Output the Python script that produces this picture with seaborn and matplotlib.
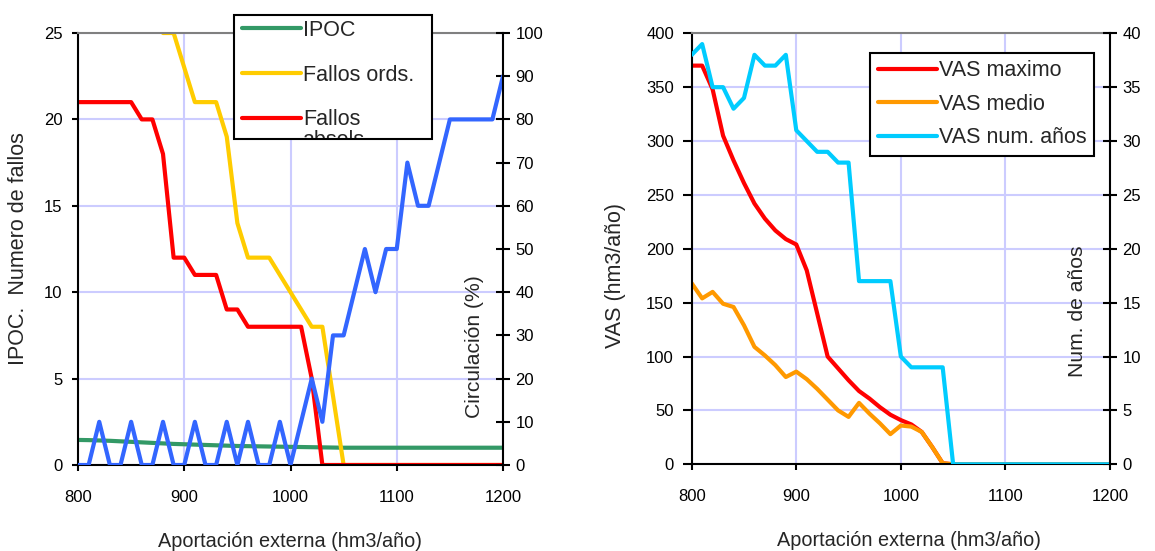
import matplotlib
matplotlib.use("Agg")
import matplotlib.pyplot as plt
import seaborn as sns
import pandas as pd
from matplotlib.patches import Rectangle
from matplotlib.transforms import Bbox, TransformedBbox

# ---- data -------------------------------------------------------------
aportacion = [800, 810, 820, 830, 840, 850, 860, 870, 880, 890,
              900, 910, 920, 930, 940, 950, 960, 970, 980, 990,
              1000, 1010, 1020, 1030, 1040, 1050, 1060, 1070, 1080, 1090,
              1100, 1110, 1120, 1130, 1140, 1150, 1160, 1170, 1180, 1190, 1200]

ipoc = [1.45, 1.44, 1.42, 1.40, 1.37, 1.34, 1.31, 1.28, 1.25, 1.22,
        1.20, 1.18, 1.16, 1.14, 1.12, 1.10, 1.09, 1.08, 1.07, 1.06,
        1.05, 1.04, 1.03, 1.02, 1.01, 1.0, 1.0, 1.0, 1.0, 1.0,
        1.0, 1.0, 1.0, 1.0, 1.0, 1.0, 1.0, 1.0, 1.0, 1.0, 1.0]
fallos_ords = [33, 33, 32, 31, 30, 29, 28, 27, 25, 25,
               23, 21, 21, 21, 19, 14, 12, 12, 12, 11,
               10, 9, 8, 8, 4, 0, 0, 0, 0, 0,
               0, 0, 0, 0, 0, 0, 0, 0, 0, 0, 0]
fallos_abs = [21, 21, 21, 21, 21, 21, 20, 20, 18, 12,
              12, 11, 11, 11, 9, 9, 8, 8, 8, 8,
              8, 8, 5, 0, 0, 0, 0, 0, 0, 0,
              0, 0, 0, 0, 0, 0, 0, 0, 0, 0, 0]
circulacion = [0, 0, 10, 0, 0, 10, 0, 0, 10, 0,
               0, 10, 0, 0, 10, 0, 10, 0, 0, 10,
               0, 10, 20, 10, 30, 30, 40, 50, 40, 50,
               50, 70, 60, 60, 70, 80, 80, 80, 80, 80, 90]

vas_max = [370, 370, 348, 305, 282, 261, 242, 228, 217, 209,
           204, 180, 140, 100, 89, 78, 68, 61, 53, 46,
           41, 37, 30, 16, 1, 0, 0, 0, 0, 0,
           0, 0, 0, 0, 0, 0, 0, 0, 0, 0, 0]
vas_medio = [168, 154, 160, 149, 146, 129, 109, 101, 92, 81,
             86, 79, 70, 60, 50, 44, 57, 47, 38, 28,
             36, 35, 30, 16, 1, 0, 0, 0, 0, 0,
             0, 0, 0, 0, 0, 0, 0, 0, 0, 0, 0]
vas_anios = [38, 39, 35, 35, 33, 34, 38, 37, 37, 38,
             31, 30, 29, 29, 28, 28, 17, 17, 17, 17,
             10, 9, 9, 9, 9, 0, 0, 0, 0, 0,
             0, 0, 0, 0, 0, 0, 0, 0, 0, 0, 0]

df = pd.DataFrame({"x": aportacion, "ipoc": ipoc, "ords": fallos_ords,
                   "abs": fallos_abs, "circ": circulacion,
                   "vmax": vas_max, "vmed": vas_medio, "vnum": vas_anios})

# ---- style ------------------------------------------------------------
sns.set_style("white")
plt.rcParams["font.family"] = ["Liberation Sans", "DejaVu Sans"]
plt.rcParams["font.size"] = 12

GRID = "#ccccff"
LEG_FS = 15.5
XL_FS = 14.3
YL_FS = 15.5
YR_FS = 15.2
W, H = 1155, 551
fig = plt.figure(figsize=(W / 100, H / 100), dpi=100)

ax1 = fig.add_axes([78 / W, 86 / H, 425 / W, 432 / H])
ax3 = fig.add_axes([691.7 / W, 86.7 / H, 418.3 / W, 431 / H])
ax2 = ax1.twinx()
ax4 = ax3.twinx()


def style_pair(ax, axr, ymax, ystep, rmax, rstep, lpad, ltick):
    ax.set_xlim(800, 1200)
    ax.set_ylim(0, ymax)
    axr.set_ylim(0, rmax)
    ax.set_xticks([800, 900, 1000, 1100, 1200])
    ax.set_yticks(list(range(0, ymax + 1, ystep)))
    axr.set_yticks(list(range(0, rmax + 1, rstep)))
    ax.grid(True, color=GRID, lw=1.5)
    ax.set_axisbelow(True)
    axr.grid(False)
    for s in ["left", "bottom"]:
        ax.spines[s].set_color("black")
        ax.spines[s].set_linewidth(1.5)
    ax.spines["top"].set_color("#808080")
    ax.spines["top"].set_linewidth(1.5)
    ax.spines["right"].set_visible(False)
    for s in ["top", "left", "bottom"]:
        axr.spines[s].set_visible(False)
    axr.spines["right"].set_color("black")
    axr.spines["right"].set_linewidth(1.5)
    ax.tick_params(axis="y", direction="out", length=ltick, width=1.5,
                   pad=lpad, labelsize=12, colors="black", left=True)
    ax.tick_params(axis="x", direction="out", length=4.3, width=1.5,
                   pad=13.5, labelsize=12, colors="black", bottom=True)
    axr.tick_params(axis="y", direction="inout", length=9.4, width=1.5,
                    pad=4.3, labelsize=12, colors="black", right=True)


# ---- left chart -------------------------------------------------------
sns.lineplot(data=df, x="x", y="ipoc", ax=ax1, color="#339966", lw=3, legend=False)
sns.lineplot(data=df, x="x", y="ords", ax=ax1, color="#ffcc00", lw=3, legend=False)
sns.lineplot(data=df, x="x", y="abs", ax=ax1, color="#ff0000", lw=3, legend=False)
sns.lineplot(data=df, x="x", y="circ", ax=ax2, color="#3366ff", lw=3, legend=False)
style_pair(ax1, ax2, 25, 5, 100, 10, 6.5, 4.5)

ax1.set_xlabel("Aportación externa (hm3/año)", fontsize=XL_FS)
ax1.xaxis.set_label_coords(0.5, -0.155)
ax1.set_ylabel("IPOC.  Numero de fallos", fontsize=YL_FS)
ax1.yaxis.set_label_coords(-0.115, 0.5)
ax2.set_ylabel("Circulación (%)", fontsize=YR_FS)
ax2.yaxis.set_label_coords(0.911, 0.275)

h = ax1.get_lines()
frame = Rectangle((234 / W, 1 - 139 / H), 198 / W, 124 / H, transform=fig.transFigure,
                  facecolor="white", edgecolor="black", lw=1.5, zorder=4.5, clip_on=False)
ax2.add_artist(frame)
ax2.legend(handles=h[:3], labels=["IPOC", "Fallos ords.", "Fallos"],
           loc="upper left", bbox_to_anchor=(242 / W, 1 - 20 / H),
           bbox_transform=fig.transFigure, frameon=False, borderpad=0,
           borderaxespad=0, handlelength=2.75, handletextpad=0.08,
           labelspacing=1.1, fontsize=LEG_FS)
extra = ax2.text(302 / W, 1 - 146 / H, "absols.", transform=fig.transFigure,
                 ha="left", va="baseline", fontsize=LEG_FS, zorder=6)
extra.set_clip_box(TransformedBbox(Bbox.from_extents(235 / W, 1 - 137.5 / H,
                                                     431 / W, 1 - 16 / H),
                                   fig.transFigure))
extra.set_clip_on(True)

# ---- right chart ------------------------------------------------------
sns.lineplot(data=df, x="x", y="vmax", ax=ax3, color="#ff0000", lw=3, legend=False)
sns.lineplot(data=df, x="x", y="vmed", ax=ax3, color="#ff9900", lw=3, legend=False)
sns.lineplot(data=df, x="x", y="vnum", ax=ax4, color="#00ccff", lw=3, legend=False)
style_pair(ax3, ax4, 400, 50, 40, 5, 6.5, 6.3)

ax3.set_xlabel("Aportación externa (hm3/año)", fontsize=XL_FS)
ax3.xaxis.set_label_coords(0.52, -0.155)
ax3.set_ylabel("VAS (hm3/año)", fontsize=YL_FS)
ax3.yaxis.set_label_coords(-0.157, 0.437)
ax4.set_ylabel("Num. de años", fontsize=YR_FS)
ax4.yaxis.set_label_coords(0.90, 0.354)

leg = ax4.legend(handles=ax3.get_lines() + ax4.get_lines(),
                 labels=["VAS maximo", "VAS medio", "VAS num. años"],
                 loc="upper left", bbox_to_anchor=(870 / W, 1 - 52.7 / H),
                 bbox_transform=fig.transFigure, frameon=True, fancybox=False,
                 edgecolor="black", framealpha=1, borderaxespad=0, borderpad=0.35,
                 handlelength=2.74, handletextpad=0.12, labelspacing=0.58,
                 fontsize=LEG_FS)
leg.get_frame().set_linewidth(1.5)

fig.savefig("out.png", dpi=100)
